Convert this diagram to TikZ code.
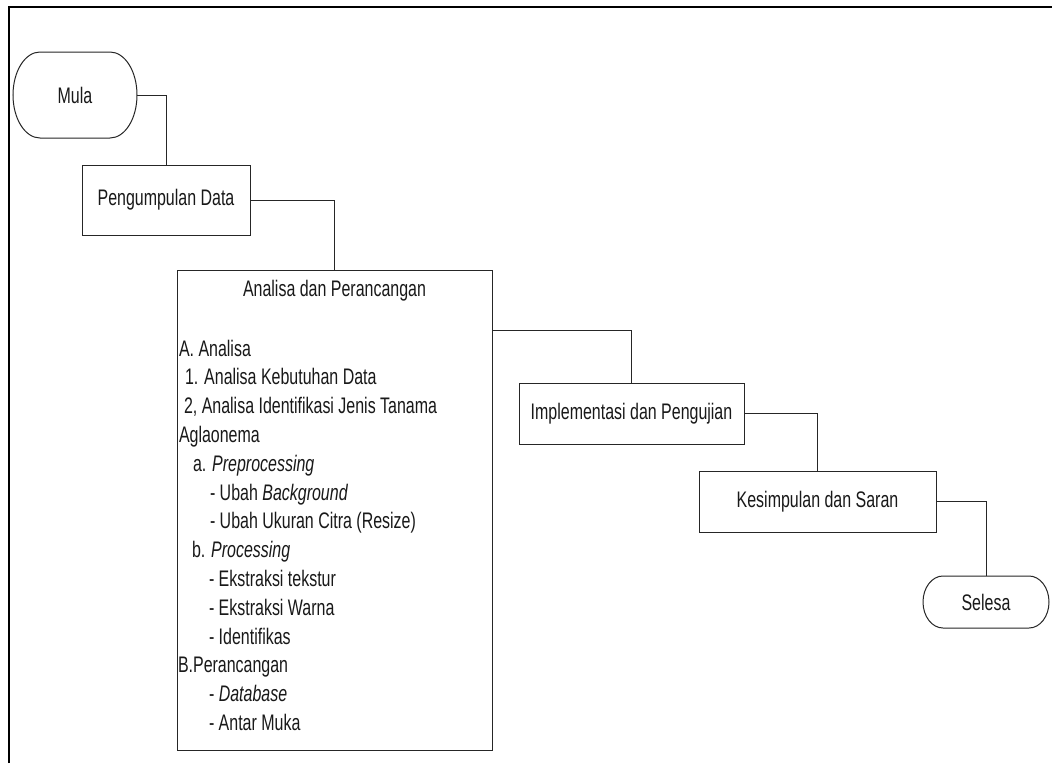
\documentclass[tikz,border=0pt]{standalone}
\usepackage{fontspec}
\setmainfont[FakeStretch=0.71]{Liberation Sans}
\usetikzlibrary{calc}
\begin{document}
\begin{tikzpicture}[x=1pt,y=-1pt,
  every node/.style={inner sep=0pt, outer sep=0pt},
  lbl/.style={font=\fontsize{22.5}{26}\selectfont, text=black!90},
  boxnode/.style={draw=black!85, line width=1pt, lbl},
  termline/.style={draw=black!85, line width=1pt},
  conn/.style={draw=black!85, line width=1pt},
  item/.style={anchor=base west, lbl}]
\useasboundingbox (0,0) rectangle (1052,763);
\fill[white] (0,0) rectangle (1052,763);
% outer frame
\draw[line width=2pt] (9,763) -- (9,7) -- (1052,7);

% terminators
\node[lbl, minimum width=124pt, minimum height=86pt] (mula) at (75,95) {Mula};
\draw[termline] ([xshift=27pt]mula.north west) -- ([xshift=-27pt]mula.north east)
  arc[start angle=90, end angle=-90, x radius=27pt, y radius=43pt]
  -- ([xshift=27pt]mula.south west)
  arc[start angle=270, end angle=90, x radius=27pt, y radius=43pt] -- cycle;

\node[lbl, minimum width=126pt, minimum height=52pt] (sel) at (986,602) {Selesa};
\draw[termline] ([xshift=20pt]sel.north west) -- ([xshift=-20pt]sel.north east)
  arc[start angle=90, end angle=-90, x radius=20pt, y radius=26pt]
  -- ([xshift=20pt]sel.south west)
  arc[start angle=270, end angle=90, x radius=20pt, y radius=26pt] -- cycle;

% process boxes
\node[boxnode, minimum width=168pt, minimum height=70pt] (peng) at (166,200) {Pengumpulan Data};
\node[boxnode, minimum width=315pt, minimum height=480pt] (ana) at (334.5,510) {};
\node[boxnode, minimum width=225pt, minimum height=61pt] (impl) at (631.5,413.5) {Implementasi dan Pengujian};
\node[boxnode, minimum width=237pt, minimum height=61pt] (kes) at (817.5,501.5) {Kesimpulan dan Saran};

% text inside Analisa box
\node[lbl, anchor=base] (anatitle) at (334.5,296) {Analisa dan Perancangan};
\node[item] (t0) at (179,356) {A. Analisa};
\node[item] (t1) at (185,384.8) {1. Analisa Kebutuhan Data};
\node[item] (t2) at (184,413.6) {2, Analisa Identifikasi Jenis Tanama};
\node[item] (t3) at (179,442.4) {Aglaonema};
\node[item] (t4) at (193,471.2) {a. \textit{Preprocessing}};
\node[item] (t5) at (210,500) {- Ubah \textit{Background}};
\node[item] (t6) at (210,528.8) {- Ubah Ukuran Citra (Resize)};
\node[item] (t7) at (192,557.6) {b. \textit{Processing}};
\node[item] (t8) at (209,586.4) {- Ekstraksi tekstur};
\node[item] (t9) at (209,615.2) {- Ekstraksi Warna};
\node[item] (t10) at (209,644) {- Identifikas};
\node[item] (t11) at (178,672.8) {B.Perancangan};
\node[item] (t12) at (209,701.6) {- \textit{Database}};
\node[item] (t13) at (209,730.4) {- Antar Muka};

% connectors
\draw[conn] (mula.east) -| (peng.north);
\draw[conn] (peng.east) -| (ana.north);
\draw[conn] ($(ana.north east)+(0,60)$) -| (impl.north);
\draw[conn] (impl.east) -| (kes.north);
\draw[conn] (kes.east) -| (sel.north);
\end{tikzpicture}
\end{document}
